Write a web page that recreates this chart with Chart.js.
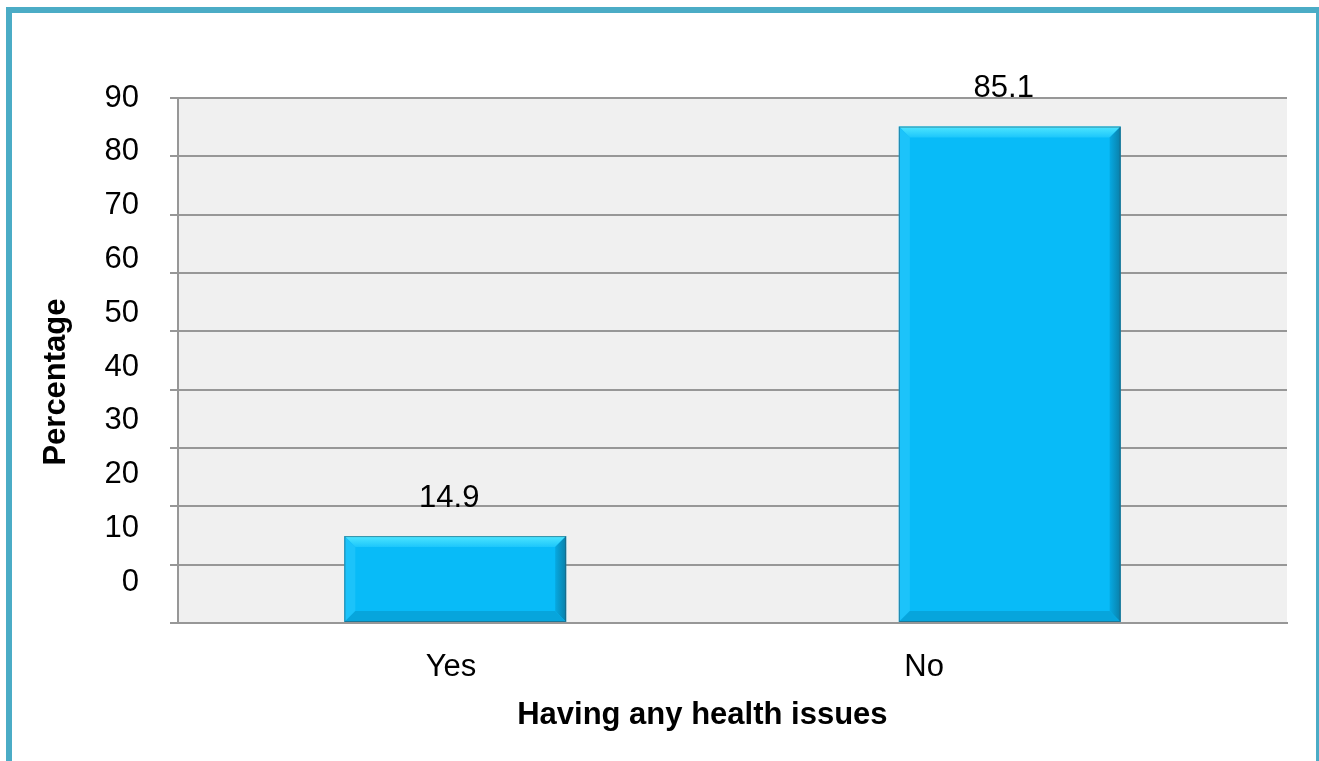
<!DOCTYPE html>
<html>
<head>
<meta charset="utf-8">
<title>Having any health issues</title>
<script src="https://cdn.jsdelivr.net/npm/chart.js@4.4.1/dist/chart.umd.min.js"></script>
<style>
  html, body { margin: 0; padding: 0; background: #fff; overflow: hidden; }
  #wrap { position: relative; width: 1319px; height: 761px; overflow: hidden; }
  #frame {
    position: absolute; left: 6px; top: 7px; width: 1316px; height: 800px;
    border: 6px solid #4bacc6; box-sizing: border-box; pointer-events: none;
  }
  canvas { position: absolute; left: 0; top: 0; }
</style>
</head>
<body>
<div id="wrap">
  <canvas id="healthChart" width="1319" height="761"></canvas>
  <div id="frame"></div>
</div>
<script>
const categories = ['Yes', 'No'];
const percentages = [14.9, 85.1];
const yTicks = [0, 10, 20, 30, 40, 50, 60, 70, 80, 90];

const gridGray = '#979797';
Chart.defaults.font.family = '"Liberation Sans", Arial, sans-serif';
Chart.defaults.color = '#000';

// grey plot area behind the bars
const plotBackground = {
  id: 'plotBackground',
  beforeDraw(chart) {
    const { ctx, chartArea: a } = chart;
    ctx.save();
    ctx.fillStyle = '#f0f0f0';
    ctx.fillRect(a.left, a.top, a.right - a.left, a.bottom - a.top);
    ctx.restore();
  }
};

// bevelled edges on each bar
const bevelBars = {
  id: 'bevelBars',
  afterDatasetsDraw(chart) {
    const ctx = chart.ctx;
    chart.getDatasetMeta(0).data.forEach(bar => {
      const { x, y, base, width } = bar.getProps(['x', 'y', 'base', 'width'], true);
      const l = x - width / 2, r = x + width / 2, t = y, b = base;
      const d = Math.min(11, (b - t) / 2);
      const face = (pts, color) => {
        ctx.beginPath();
        ctx.moveTo(pts[0][0], pts[0][1]);
        pts.slice(1).forEach(p => ctx.lineTo(p[0], p[1]));
        ctx.closePath();
        ctx.fillStyle = color;
        ctx.fill();
      };
      ctx.save();
      const topGrad = ctx.createLinearGradient(0, t, 0, t + d);
      topGrad.addColorStop(0, '#4ee6ff');
      topGrad.addColorStop(1, '#1cc6fb');
      face([[l, t], [r, t], [r - d, t + d], [l + d, t + d]], topGrad);
      face([[l, t], [l + d, t + d], [l + d, b - d], [l, b]], '#1cc3fa');
      const rightGrad = ctx.createLinearGradient(r - d, 0, r, 0);
      rightGrad.addColorStop(0, '#06a9e2');
      rightGrad.addColorStop(1, '#0a7fa8');
      face([[r, t], [r, b], [r - d, b - d], [r - d, t + d]], rightGrad);
      face([[l, b], [l + d, b - d], [r - d, b - d], [r, b]], '#07a5dc');
      ctx.strokeStyle = 'rgba(40,90,110,0.6)';
      ctx.lineWidth = 1;
      ctx.strokeRect(l + 0.5, t + 0.5, width - 1, b - t - 1);
      ctx.restore();
    });
  }
};

// value printed above each bar
const valueLabels = {
  id: 'valueLabels',
  afterDatasetsDraw(chart) {
    const ctx = chart.ctx;
    ctx.save();
    ctx.font = '31px "Liberation Sans", Arial, sans-serif';
    ctx.fillStyle = '#000';
    ctx.textAlign = 'center';
    ctx.textBaseline = 'middle';
    chart.getDatasetMeta(0).data.forEach((bar, i) => {
      ctx.fillText(String(percentages[i]), bar.x - 6, bar.y - 38);
    });
    ctx.restore();
  }
};

new Chart(document.getElementById('healthChart'), {
  type: 'bar',
  data: {
    labels: categories,
    datasets: [{
      data: percentages,
      xAxisID: 'x',
      yAxisID: 'y',
      backgroundColor: '#08bbf8',
      borderWidth: 0,
      barPercentage: 0.4,
      categoryPercentage: 1
    }]
  },
  options: {
    responsive: false,
    animation: false,
    layout: { padding: { top: 98, right: 32, bottom: 20, left: 0 } },
    plugins: { legend: { display: false }, tooltip: { enabled: false } },
    scales: {
      // category axis that places the bars
      x: {
        weight: 0,
        grid: { display: false, drawTicks: false },
        border: { color: gridGray, width: 2 },
        ticks: { display: false },
        afterFit(scale) { scale.height = 1; }
      },
      // axis carrying the category names and the x title
      xLabels: {
        type: 'linear',
        position: 'bottom',
        weight: 1,
        offset: false,
        min: -0.577,
        max: 1.767,
        afterBuildTicks(scale) { scale.ticks = categories.map((c, i) => ({ value: i })); },
        grid: { display: false, drawTicks: false, offset: false },
        border: { display: false },
        ticks: { font: { size: 31 }, padding: 25, callback: v => categories[v] },
        // trailing spaces nudge the centred title to the left
        title: {
          display: true,
          text: 'Having any health issues       ',
          font: { size: 31, weight: 'bold' },
          padding: { top: 0, bottom: 7 }
        },
        afterFit(scale) { scale.height = 117; }
      },
      y: {
        weight: 0,
        min: 0,
        max: 90,
        ticks: { stepSize: 10, display: false },
        grid: { color: gridGray, lineWidth: 2, tickLength: 8 },
        border: { color: gridGray, width: 2 },
        afterFit(scale) { scale.width = 8; }
      },
      yLabels: {
        weight: 1,
        position: 'left',
        min: -7.6,
        max: 90,
        afterBuildTicks(scale) { scale.ticks = yTicks.map(v => ({ value: v })); },
        grid: { display: false, drawTicks: false },
        border: { display: false },
        ticks: { font: { size: 31 }, padding: 31 },
        title: {
          display: true,
          text: 'Percentage     ',
          font: { size: 31, weight: 'bold' },
          padding: { top: 38, bottom: 0 }
        },
        afterFit(scale) { scale.width = 170; }
      }
    }
  },
  plugins: [plotBackground, bevelBars, valueLabels]
});
</script>
</body>
</html>
